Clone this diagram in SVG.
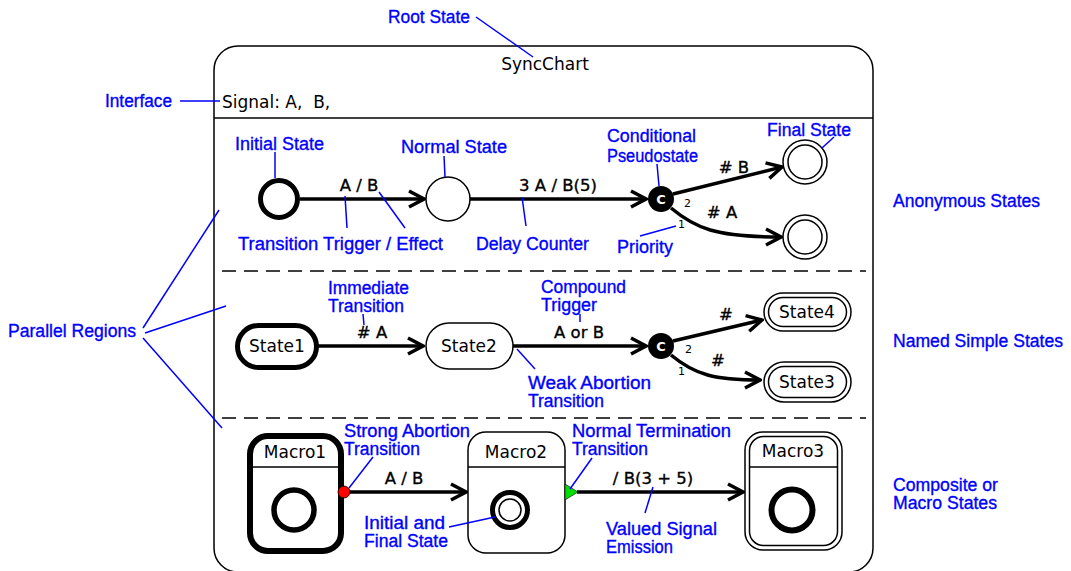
<svg xmlns="http://www.w3.org/2000/svg" width="1071" height="571" viewBox="0 0 1071 571">
  <style>
    .lbl { font-family: "DejaVu Sans", "Liberation Sans", sans-serif; font-size: 17px; fill: #000; }
    .trn { font-family: "DejaVu Sans", "Liberation Sans", sans-serif; font-size: 16.5px; fill: #000; stroke: #000; stroke-width: 0.35; text-anchor: middle; }
    .nm { font-family: "DejaVu Sans", "Liberation Sans", sans-serif; font-size: 17px; fill: #000; text-anchor: middle; }
    .prio { font-family: "DejaVu Sans", sans-serif; font-size: 11px; fill: #000; }
    .cond { font-family: "DejaVu Sans", sans-serif; font-size: 13px; font-weight: bold; fill: #fff; text-anchor: middle; }
    .note { font-family: "Liberation Sans", "DejaVu Sans", sans-serif; font-size: 18px; fill: #0000ff; stroke: #0000ff; stroke-width: 0.35; }
    .lead { stroke: #0000ff; stroke-width: 1.5; fill: none; }
    .edge { stroke: #000; stroke-width: 3.5; fill: none; }
    .thin { stroke: #000; stroke-width: 1.5; fill: #fff; }
    .thick { stroke: #000; stroke-width: 5; fill: #fff; }
    .sep { stroke: #000; stroke-width: 1.5; stroke-dasharray: 14 8; }
  </style>
  <defs>
    <marker id="arrow" markerUnits="userSpaceOnUse" viewBox="-18 -12 20 24" markerWidth="20" markerHeight="24" refX="0" refY="0" orient="auto">
      <path d="M-15,-8 L0,0 L-15,8" fill="none" stroke="#000" stroke-width="3.5" stroke-linejoin="miter"/>
    </marker>
  </defs>

  <rect width="1071" height="571" fill="#fff"/>

  <!-- root state -->
  <g id="root">
    <rect x="214" y="46" width="659" height="526" rx="24" fill="none" stroke="#000" stroke-width="1.5"/>
    <text class="lbl" x="545" y="70" text-anchor="middle">SyncChart</text>
    <text class="lbl" x="222" y="108" style="white-space:pre">Signal: A,  B,</text>
    <line x1="214" y1="118" x2="873" y2="118" stroke="#000" stroke-width="1.5"/>
    <line class="sep" x1="222" y1="271" x2="866" y2="271"/>
    <line class="sep" x1="222" y1="418" x2="866" y2="418"/>
  </g>

  <!-- region 1: anonymous states -->
  <g id="initial">
    <circle class="thick" cx="279" cy="199" r="18.5"/>
  </g>
  <g id="normal">
    <circle class="thin" cx="448" cy="199" r="22"/>
  </g>
  <g id="cond1">
    <circle cx="661" cy="199" r="13" fill="#000"/>
    <text class="cond" x="661" y="204">C</text>
  </g>
  <g id="final1">
    <circle class="thin" cx="805" cy="162" r="22"/>
    <circle cx="805" cy="162" r="17" fill="none" stroke="#000" stroke-width="1.5"/>
  </g>
  <g id="final2">
    <circle class="thin" cx="805" cy="237" r="22"/>
    <circle cx="805" cy="237" r="17" fill="none" stroke="#000" stroke-width="1.5"/>
  </g>

  <!-- region 2: named simple states -->
  <g id="state1">
    <rect class="thick" x="237.5" y="325.5" width="79" height="42" rx="21"/>
    <text class="nm" x="277" y="352">State1</text>
  </g>
  <g id="state2">
    <rect class="thin" x="426" y="323" width="87" height="46" rx="23"/>
    <text class="nm" x="469" y="352">State2</text>
  </g>
  <g id="cond2">
    <circle cx="661" cy="346" r="13" fill="#000"/>
    <text class="cond" x="661" y="351">C</text>
  </g>
  <g id="state4">
    <rect class="thin" x="764" y="293" width="87" height="38" rx="19"/>
    <rect x="768.5" y="297.5" width="78" height="29" rx="14.5" fill="none" stroke="#000" stroke-width="1.5"/>
    <text class="nm" x="807" y="318">State4</text>
  </g>
  <g id="state3">
    <rect class="thin" x="764" y="362" width="87" height="40" rx="20"/>
    <rect x="768.5" y="366.5" width="78" height="31" rx="15.5" fill="none" stroke="#000" stroke-width="1.5"/>
    <text class="nm" x="807" y="388">State3</text>
  </g>

  <!-- region 3: macro states -->
  <g id="macro1">
    <rect x="250" y="436" width="91" height="115" rx="18" fill="#fff" stroke="#000" stroke-width="6"/>
    <line x1="250" y1="467" x2="341" y2="467" stroke="#000" stroke-width="1.5"/>
    <text class="nm" x="295" y="458">Macro1</text>
    <circle cx="294" cy="510" r="20" fill="#fff" stroke="#000" stroke-width="5.5"/>
  </g>
  <g id="macro2">
    <rect class="thin" x="468" y="432" width="97" height="121" rx="18"/>
    <line x1="468" y1="467" x2="565" y2="467" stroke="#000" stroke-width="1.5"/>
    <text class="nm" x="516" y="458">Macro2</text>
    <circle cx="510" cy="510" r="17.5" fill="#fff" stroke="#000" stroke-width="5"/>
    <circle cx="510" cy="510" r="11" fill="#fff" stroke="#000" stroke-width="1.5"/>
  </g>
  <g id="macro3">
    <rect class="thin" x="745" y="432" width="97" height="118" rx="18"/>
    <rect x="749.5" y="436.5" width="88" height="109" rx="14" fill="none" stroke="#000" stroke-width="1.5"/>
    <line x1="749.5" y1="467" x2="837.5" y2="467" stroke="#000" stroke-width="1.5"/>
    <text class="nm" x="793" y="457">Macro3</text>
    <circle cx="792" cy="510" r="20.5" fill="#fff" stroke="#000" stroke-width="6"/>
  </g>

  <!-- connectors (drawn over the states so the abort/termination markers show) -->
  <g id="connectors">
    <!-- region 1 -->
    <path class="edge" d="M300,199 L424,199" marker-end="url(#arrow)"/>
    <text class="trn" x="359" y="191">A / B</text>
    <path class="edge" d="M470,199 L646,199" marker-end="url(#arrow)"/>
    <text class="trn" x="558" y="191">3 A / B(5)</text>
    <path class="edge" d="M673,194 L782,167" marker-end="url(#arrow)"/>
    <text class="trn" x="734" y="173">#  B</text>
    <path class="edge" d="M671,208 C695,228 715,237 781,237" marker-end="url(#arrow)"/>
    <text class="trn" x="722" y="218">#  A</text>
    <text class="prio" x="684" y="207">2</text>
    <text class="prio" x="678" y="228">1</text>

    <!-- region 2 -->
    <path class="edge" d="M318,346 L423,346" marker-end="url(#arrow)"/>
    <text class="trn" x="372" y="338">#  A</text>
    <path class="edge" d="M513,346 L646,346" marker-end="url(#arrow)"/>
    <text class="trn" x="579" y="338">A or B</text>
    <path class="edge" d="M673,341 L762,320" marker-end="url(#arrow)"/>
    <text class="trn" x="726" y="320">#</text>
    <path class="edge" d="M671,355 C695,375 715,380 760,380" marker-end="url(#arrow)"/>
    <text class="trn" x="718" y="366">#</text>
    <text class="prio" x="685" y="353">2</text>
    <text class="prio" x="678" y="375">1</text>

    <!-- region 3 -->
    <path class="edge" d="M344,492 L466,492" marker-end="url(#arrow)"/>
    <circle cx="344" cy="492" r="6" fill="#ff0000" stroke="#000" stroke-width="0.8"/>
    <text class="trn" x="404" y="484">A / B</text>
    <path class="edge" d="M577,492 L743,492" marker-end="url(#arrow)"/>
    <polygon points="565,484 578,492 565,500" fill="#00dd00" stroke="#000" stroke-width="0.6"/>
    <text class="trn" x="653" y="484">/ B(3 + 5)</text>
  </g>

  <!-- annotations -->
  <g id="annotations">
    <text class="note" x="388" y="23" textLength="82" lengthAdjust="spacingAndGlyphs">Root State</text>
    <line class="lead" x1="476" y1="17" x2="533" y2="57"/>

    <text class="note" x="105" y="107" textLength="67" lengthAdjust="spacingAndGlyphs">Interface</text>
    <line class="lead" x1="180" y1="101" x2="220" y2="101"/>

    <text class="note" x="235" y="150" textLength="89" lengthAdjust="spacingAndGlyphs">Initial State</text>
    <line class="lead" x1="275" y1="152" x2="275" y2="178"/>

    <text class="note" x="401" y="153" textLength="106" lengthAdjust="spacingAndGlyphs">Normal State</text>
    <line class="lead" x1="444" y1="156" x2="445" y2="177"/>

    <text class="note" x="607" y="142" textLength="89" lengthAdjust="spacingAndGlyphs">Conditional</text>
    <text class="note" x="607" y="162" textLength="91" lengthAdjust="spacingAndGlyphs">Pseudostate</text>
    <line class="lead" x1="657" y1="164" x2="659" y2="186"/>

    <text class="note" x="767" y="136" textLength="84" lengthAdjust="spacingAndGlyphs">Final State</text>
    <line class="lead" x1="834" y1="137" x2="822" y2="148"/>

    <text class="note" x="238" y="250" textLength="205" lengthAdjust="spacingAndGlyphs">Transition Trigger / Effect</text>
    <line class="lead" x1="345" y1="196" x2="347" y2="228"/>
    <line class="lead" x1="379" y1="192" x2="405" y2="228"/>

    <text class="note" x="476" y="250" textLength="113" lengthAdjust="spacingAndGlyphs">Delay Counter</text>
    <line class="lead" x1="522" y1="197" x2="526" y2="226"/>

    <text class="note" x="617" y="253" textLength="56" lengthAdjust="spacingAndGlyphs">Priority</text>
    <line class="lead" x1="640" y1="236" x2="676" y2="226"/>

    <text class="note" x="893" y="207" textLength="147" lengthAdjust="spacingAndGlyphs">Anonymous States</text>

    <text class="note" x="328" y="294" textLength="81" lengthAdjust="spacingAndGlyphs">Immediate</text>
    <text class="note" x="328" y="312" textLength="76" lengthAdjust="spacingAndGlyphs">Transition</text>
    <line class="lead" x1="363" y1="314" x2="364" y2="325"/>

    <text class="note" x="541" y="293" textLength="85" lengthAdjust="spacingAndGlyphs">Compound</text>
    <text class="note" x="541" y="311" textLength="56" lengthAdjust="spacingAndGlyphs">Trigger</text>
    <line class="lead" x1="580" y1="314" x2="580" y2="322"/>

    <text class="note" x="528" y="389" textLength="123" lengthAdjust="spacingAndGlyphs">Weak Abortion</text>
    <text class="note" x="528" y="407" textLength="76" lengthAdjust="spacingAndGlyphs">Transition</text>
    <line class="lead" x1="517" y1="349" x2="535" y2="369"/>

    <text class="note" x="893" y="347" textLength="170" lengthAdjust="spacingAndGlyphs">Named Simple States</text>

    <text class="note" x="8" y="337" textLength="128" lengthAdjust="spacingAndGlyphs">Parallel Regions</text>
    <line class="lead" x1="143" y1="328" x2="219" y2="210"/>
    <line class="lead" x1="145" y1="333" x2="226" y2="306"/>
    <line class="lead" x1="143" y1="338" x2="222" y2="428"/>

    <text class="note" x="344" y="437" textLength="126" lengthAdjust="spacingAndGlyphs">Strong Abortion</text>
    <text class="note" x="344" y="455" textLength="76" lengthAdjust="spacingAndGlyphs">Transition</text>
    <line class="lead" x1="373" y1="457" x2="349" y2="488"/>

    <text class="note" x="572" y="437" textLength="159" lengthAdjust="spacingAndGlyphs">Normal Termination</text>
    <text class="note" x="572" y="455" textLength="76" lengthAdjust="spacingAndGlyphs">Transition</text>
    <line class="lead" x1="592" y1="458" x2="570" y2="489"/>

    <text class="note" x="364" y="529" textLength="81" lengthAdjust="spacingAndGlyphs">Initial and</text>
    <text class="note" x="364" y="547" textLength="84" lengthAdjust="spacingAndGlyphs">Final State</text>
    <line class="lead" x1="449" y1="527" x2="495" y2="517"/>

    <text class="note" x="606" y="535" textLength="111" lengthAdjust="spacingAndGlyphs">Valued Signal</text>
    <text class="note" x="606" y="553" textLength="67" lengthAdjust="spacingAndGlyphs">Emission</text>
    <line class="lead" x1="653" y1="487" x2="645" y2="513"/>

    <text class="note" x="893" y="491" textLength="105" lengthAdjust="spacingAndGlyphs">Composite or</text>
    <text class="note" x="893" y="509" textLength="104" lengthAdjust="spacingAndGlyphs">Macro States</text>
  </g>
</svg>
